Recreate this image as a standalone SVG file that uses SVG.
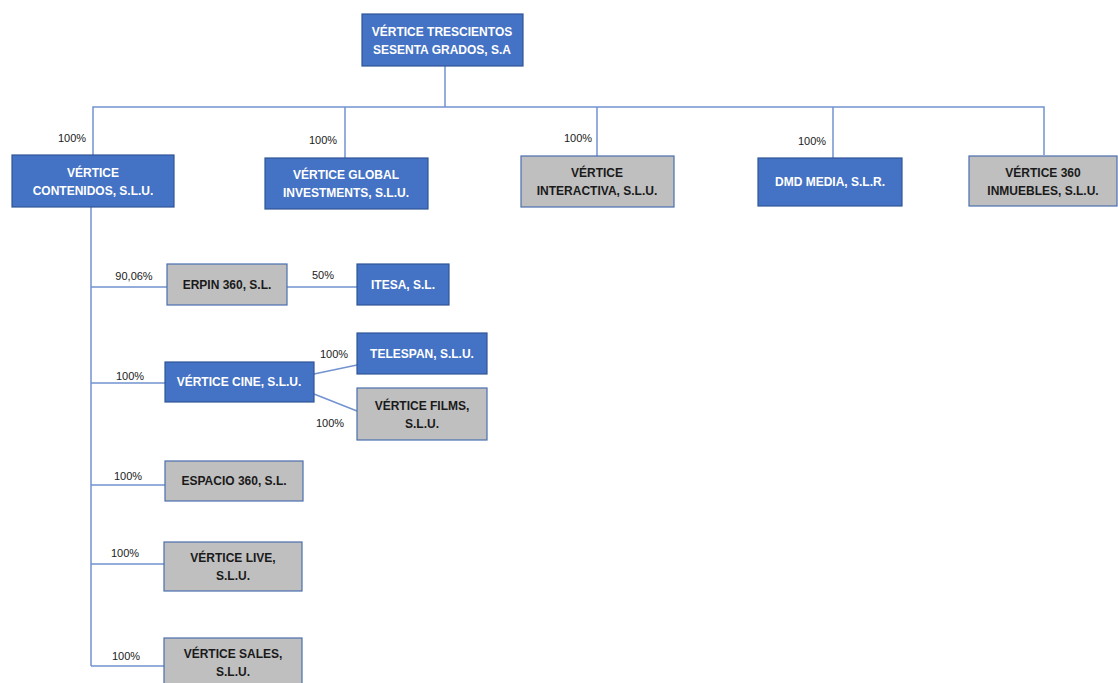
<svg xmlns="http://www.w3.org/2000/svg" width="1118" height="683" viewBox="0 0 1118 683">
<style>
.b{fill:#4472C4;stroke:#2F5597;stroke-width:1.2}
.g{fill:#BFBFBF;stroke:#4A6EAE;stroke-width:1.2}
.tw{font-family:"Liberation Sans",Arial,sans-serif;font-size:12px;font-weight:bold;fill:#FFFFFF;text-anchor:middle}
.tk{font-family:"Liberation Sans",Arial,sans-serif;font-size:12px;font-weight:bold;fill:#1A1A1A;text-anchor:middle}
.p{font-family:"Liberation Sans",Arial,sans-serif;font-size:11px;fill:#1A1A1A;text-anchor:middle}
.c{stroke:#7293D0;stroke-width:1.5;fill:none}
</style>
<rect width="1118" height="683" fill="#FFFFFF"/>
<g id="connectors">
<path class="c" d="M445 66V107M93 155V107H1044V155M345 107V158M597 107V156M833 107V158"/>
<path class="c" d="M91 207V666M91 287H167M283 287H357M91 383H165M91 485H165M91 564H164M91 666H164M314 374L357 365M314 394L357 411"/>
</g>
<g id="labels">
<text class="p" x="72" y="142">100%</text>
<text class="p" x="323" y="144">100%</text>
<text class="p" x="578" y="142">100%</text>
<text class="p" x="812" y="145">100%</text>
<text class="p" x="134" y="280">90,06%</text>
<text class="p" x="323" y="279">50%</text>
<text class="p" x="130" y="380">100%</text>
<text class="p" x="334" y="358">100%</text>
<text class="p" x="330" y="427">100%</text>
<text class="p" x="128" y="480">100%</text>
<text class="p" x="125" y="557">100%</text>
<text class="p" x="126" y="660">100%</text>
</g>
<g id="n-root"><rect class="b" x="362" y="14" width="161" height="52"/><text class="tw" x="442" y="36">VÉRTICE TRESCIENTOS</text><text class="tw" x="442" y="54">SESENTA GRADOS, S.A</text></g>
<g id="n-contenidos"><rect class="b" x="12" y="155" width="162" height="52"/><text class="tw" x="93" y="177">VÉRTICE</text><text class="tw" x="93" y="195">CONTENIDOS, S.L.U.</text></g>
<g id="n-global"><rect class="b" x="265" y="158" width="163" height="51"/><text class="tw" x="346" y="179">VÉRTICE GLOBAL</text><text class="tw" x="346" y="197">INVESTMENTS, S.L.U.</text></g>
<g id="n-interactiva"><rect class="g" x="521" y="156" width="153" height="51"/><text class="tk" x="597" y="177">VÉRTICE</text><text class="tk" x="597" y="195">INTERACTIVA, S.L.U.</text></g>
<g id="n-dmd"><rect class="b" x="758" y="158" width="144" height="48"/><text class="tw" x="830" y="186">DMD MEDIA, S.L.R.</text></g>
<g id="n-inmuebles"><rect class="g" x="969" y="156" width="148" height="50"/><text class="tk" x="1043" y="177">VÉRTICE 360</text><text class="tk" x="1043" y="195">INMUEBLES, S.L.U.</text></g>
<g id="n-erpin"><rect class="g" x="167" y="264" width="120" height="41"/><text class="tk" x="227" y="289">ERPIN 360, S.L.</text></g>
<g id="n-itesa"><rect class="b" x="357" y="264" width="92" height="41"/><text class="tw" x="403" y="289">ITESA, S.L.</text></g>
<g id="n-cine"><rect class="b" x="165" y="362" width="149" height="40"/><text class="tw" x="239" y="386">VÉRTICE CINE, S.L.U.</text></g>
<g id="n-telespan"><rect class="b" x="357" y="333" width="130" height="41"/><text class="tw" x="422" y="358">TELESPAN, S.L.U.</text></g>
<g id="n-films"><rect class="g" x="357" y="388" width="130" height="52"/><text class="tk" x="422" y="410">VÉRTICE FILMS,</text><text class="tk" x="422" y="428">S.L.U.</text></g>
<g id="n-espacio"><rect class="g" x="165" y="461" width="138" height="40"/><text class="tk" x="234" y="485">ESPACIO 360, S.L.</text></g>
<g id="n-live"><rect class="g" x="164" y="542" width="138" height="49"/><text class="tk" x="233" y="562">VÉRTICE LIVE,</text><text class="tk" x="233" y="580">S.L.U.</text></g>
<g id="n-sales"><rect class="g" x="164" y="638" width="138" height="50"/><text class="tk" x="233" y="658">VÉRTICE SALES,</text><text class="tk" x="233" y="676">S.L.U.</text></g>
</svg>
